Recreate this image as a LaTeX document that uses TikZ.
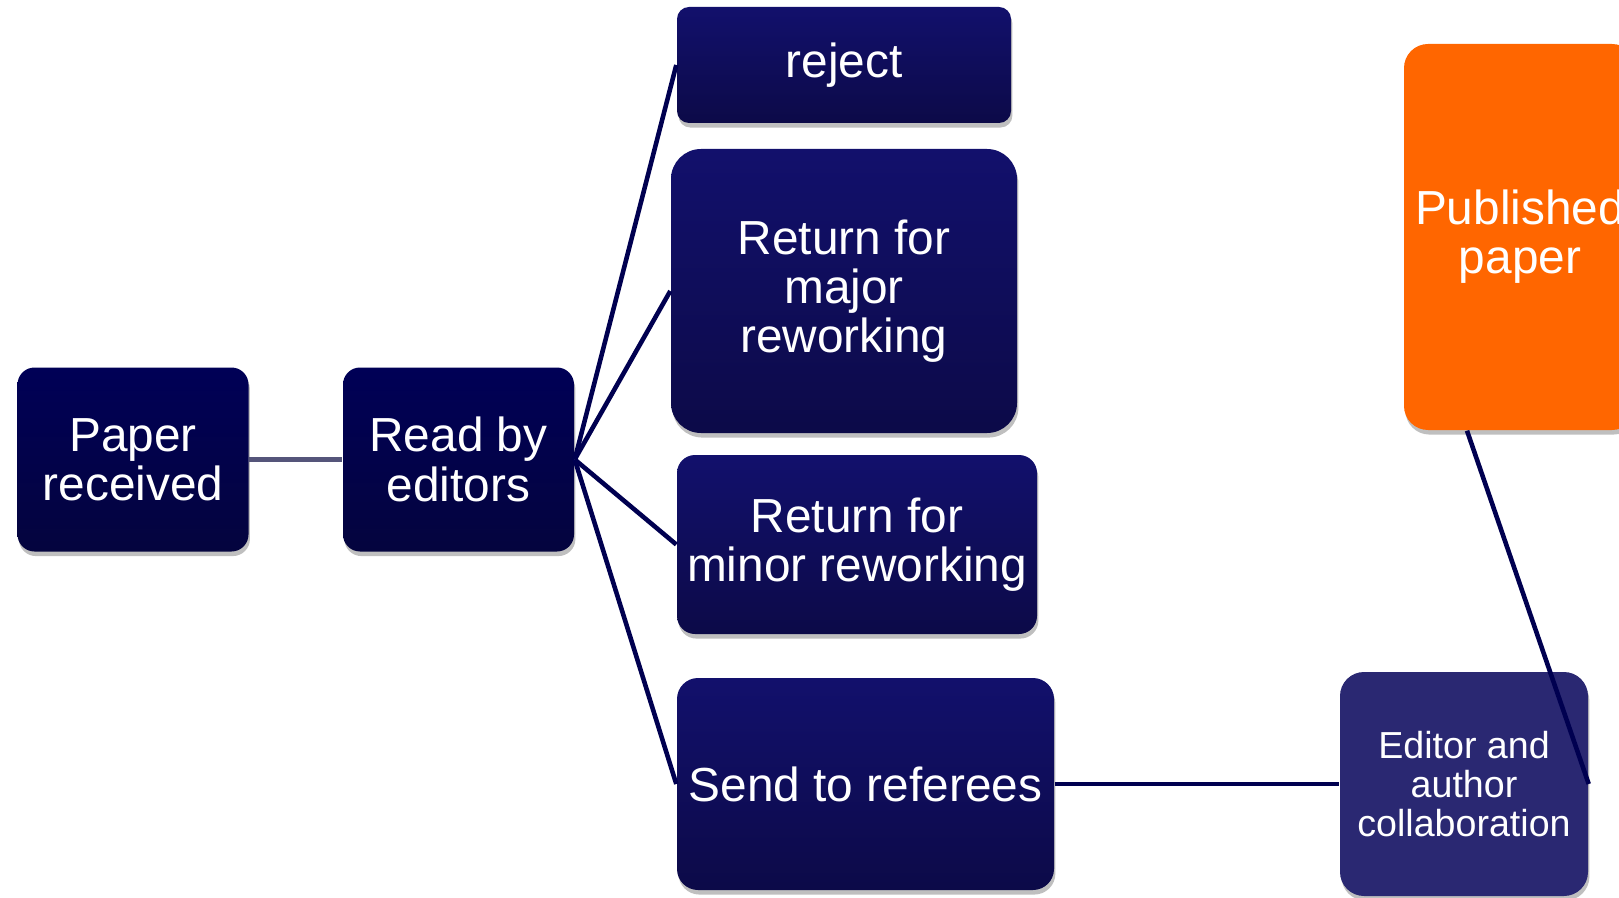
\documentclass[tikz,border=0pt]{standalone}
\usepackage{fontspec}
\setmainfont{Liberation Sans}
\usepackage{tikz}
\usetikzlibrary{shadows}
\definecolor{navytop}{HTML}{000056}
\definecolor{navybot}{HTML}{04043E}
\definecolor{bluetop}{HTML}{12106C}
\definecolor{bluebot}{HTML}{0C0A48}
\definecolor{collabfill}{HTML}{2A2872}
\definecolor{pubfill}{HTML}{FF6600}
\definecolor{linknavy}{HTML}{000050}
\definecolor{linkgrey}{HTML}{55557A}

\begin{document}
\begin{tikzpicture}[
    stage/.style={rounded corners=#1, text=white, align=center, inner sep=0pt,
        font=\fontsize{13.6}{14}\selectfont,
        drop shadow={shadow xshift=0.4pt, shadow yshift=-1.3pt, fill=black, opacity=0.25}},
    start/.style={stage=#1, top color=navytop, bottom color=navybot},
    choice/.style={stage=#1, top color=bluetop, bottom color=bluebot},
    link/.style={line width=1.3pt, draw=linknavy}
]
    \useasboundingbox (0,0) rectangle (16.19,-8.98);
    \node [start=0.17cm, minimum width=2.31cm, minimum height=1.84cm] (received) at (1.33,-4.595) {Paper\\received};
    \node [start=0.17cm, minimum width=2.31cm, minimum height=1.84cm] (read) at (4.585,-4.595) {Read by\\editors};
    \node [choice=0.12cm, minimum width=3.34cm, minimum height=1.16cm] (reject) at (8.44,-0.65) {reject};
    \node [choice=0.3cm, minimum width=3.46cm, minimum height=2.84cm] (major) at (8.44,-2.91) {Return for\\major\\reworking};
    \node [choice=0.18cm, minimum width=3.60cm, minimum height=1.79cm] (minor) at (8.57,-5.445) {Return for\\minor reworking};
    \node [choice=0.21cm, minimum width=3.77cm, minimum height=2.12cm] (referees) at (8.655,-7.84) {Send to referees};
    \node [stage=0.24cm, fill=collabfill, minimum width=2.48cm, minimum height=2.24cm,
        font=\fontsize{10.7}{11.2}\selectfont] (collab) at (14.64,-7.84) {Editor and\\author\\collaboration};
    \node [stage=0.24cm, fill=pubfill, minimum width=2.32cm, minimum height=3.86cm] (published) at (15.20,-2.37) {Published\\paper};
    % links
    \draw [link, draw=linkgrey, line width=1.5pt] (received.east) -- (read.east -| read.west);
    \draw [link] (read.east) -- (reject.west);
    \draw [link] (read.east) -- (major.west);
    \draw [link] (read.east) -- (minor.west);
    \draw [link] (read.east) -- (referees.west);
    \draw [link] (referees.east) -- (collab.west);
    \draw [link] ([xshift=-0.53cm]published.south) -- (collab.east);
\end{tikzpicture}
\end{document}
